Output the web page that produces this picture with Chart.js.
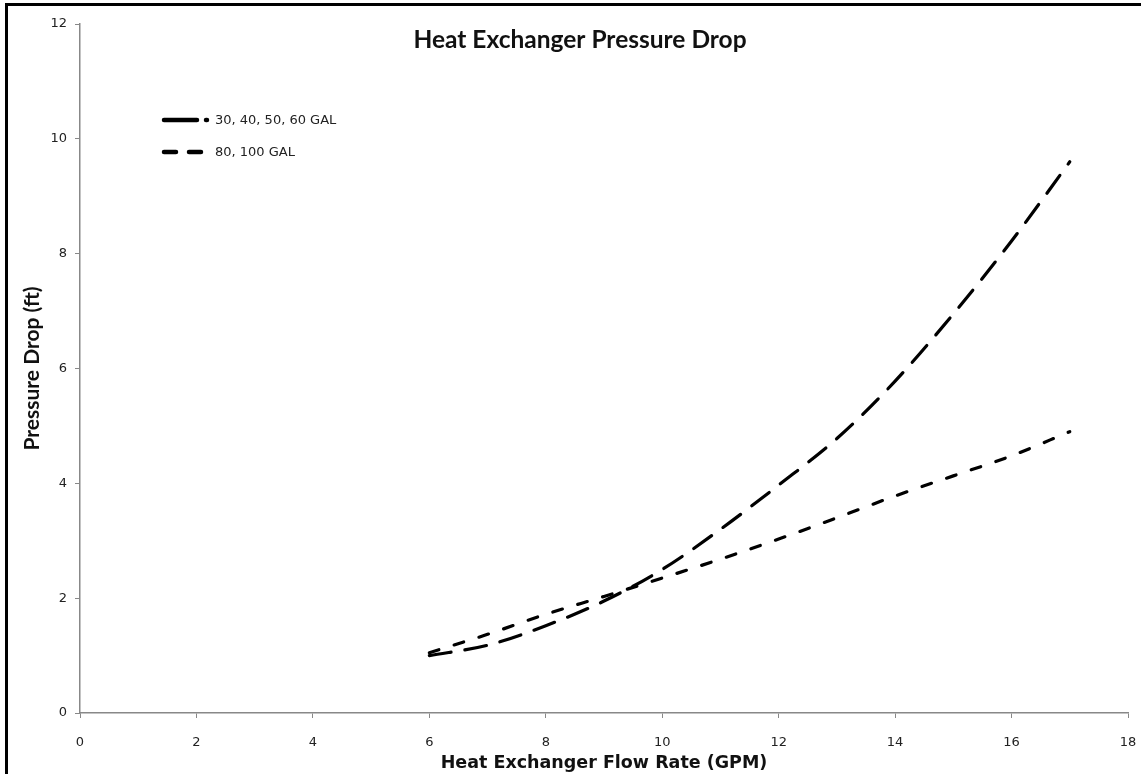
<!DOCTYPE html>
<html>
<head>
<meta charset="utf-8">
<script src="https://cdn.jsdelivr.net/npm/chart.js@4.4.0/dist/chart.umd.min.js"></script>
<style>
  html, body { margin: 0; padding: 0; background: #fff; }
  #wrap { position: relative; width: 1141px; height: 774px; overflow: hidden; }
  #frame { position: absolute; left: 5px; top: 3px; width: 1200px; height: 800px;
           border-top: 3px solid #000; border-left: 3px solid #000; pointer-events: none; }
  canvas { position: absolute; left: 0; top: 0; }
</style>
</head>
<body>
<div id="wrap">
  <canvas id="c" width="1141" height="774"></canvas>
  <div id="frame"></div>
</div>
<script>
const chartTitle = "Heat Exchanger Pressure Drop";
const xTitle = "Heat Exchanger Flow Rate (GPM)";
const yTitle = "Pressure Drop (ft)";
const flowRates = [6, 7, 8, 9, 10, 11, 12, 13, 14, 15, 16, 17];
const series1Label = "30, 40, 50, 60 GAL";
const series1Values = [1.0, 1.18, 1.52, 1.95, 2.5, 3.2, 3.97, 4.78, 5.78, 6.95, 8.22, 9.6];
const series2Label = "80, 100 GAL";
const series2Values = [1.05, 1.37, 1.72, 2.03, 2.35, 2.68, 3.03, 3.4, 3.78, 4.13, 4.48, 4.9];
const xMin = 0, xMax = 18, xStep = 2;
const yMin = 0, yMax = 12, yStep = 2;

const toPoints = (xs, ys) => xs.map((x, i) => ({x: x, y: ys[i]}));

const overlayPlugin = {
  id: 'overlay',
  afterDraw(chart) {
    const ctx = chart.ctx;
    ctx.save();
    // title
    ctx.fillStyle = '#111';
    ctx.font = 'bold 24.5px Lato';
    ctx.textAlign = 'center';
    ctx.textBaseline = 'middle';
    ctx.fillText(chartTitle, 580, 40);
    // legend
    const legendDash = [[33, 9], [12, 13]];
    const ys = [120, 152];
    chart.data.datasets.forEach((ds, i) => {
      ctx.beginPath();
      ctx.setLineDash(legendDash[i]);
      ctx.lineCap = 'round';
      ctx.lineWidth = 4.5;
      ctx.strokeStyle = '#000';
      ctx.moveTo(164, ys[i]);
      ctx.lineTo(i === 0 ? 207 : 201, ys[i]);
      ctx.stroke();
      ctx.setLineDash([]);
      ctx.fillStyle = '#222';
      ctx.font = '13px "DejaVu Sans"';
      ctx.textAlign = 'left';
      ctx.fillText(ds.label, 215, ys[i] + 1);
    });
    ctx.restore();
  }
};

new Chart(document.getElementById('c'), {
  type: 'line',
  data: {
    datasets: [
      {
        label: series1Label,
        data: toPoints(flowRates, series1Values),
        borderColor: '#000',
        borderWidth: 3.2,
        borderDash: [22, 14],
        borderCapStyle: 'round',
        cubicInterpolationMode: 'monotone',
        pointRadius: 0,
        fill: false
      },
      {
        label: series2Label,
        data: toPoints(flowRates, series2Values),
        borderColor: '#000',
        borderWidth: 3.2,
        borderDash: [10, 16],
        borderCapStyle: 'round',
        cubicInterpolationMode: 'monotone',
        pointRadius: 0,
        fill: false
      }
    ]
  },
  options: {
    responsive: false,
    animation: false,
    devicePixelRatio: 1,
    layout: { padding: { top: 24, right: 13, left: 0, bottom: 0 } },
    plugins: {
      legend: { display: false },
      tooltip: { enabled: false },
      title: { display: false }
    },
    scales: {
      x: {
        type: 'linear',
        min: xMin, max: xMax,
        ticks: { stepSize: xStep, color: '#222', font: { family: 'DejaVu Sans', size: 13 }, padding: 17, maxRotation: 0 },
        grid: { drawOnChartArea: false, color: '#888', tickLength: 5, lineWidth: 1 },
        border: { color: '#888', width: 1.5 },
        title: { display: true, text: xTitle, color: '#111', font: { family: 'DejaVu Sans', size: 17.5, weight: 'bold', lineHeight: 1.2 }, padding: { top: 0, bottom: 0 } },
        afterFit(scale) { scale.height = 61; scale.paddingRight = 0; scale.paddingLeft = 0; }
      },
      y: {
        type: 'linear',
        min: yMin, max: yMax,
        ticks: { stepSize: yStep, color: '#222', font: { family: 'DejaVu Sans', size: 13 }, padding: 8 },
        grid: { drawOnChartArea: false, color: '#888', tickLength: 5, lineWidth: 1 },
        border: { color: '#888', width: 1.5 },
        title: { display: true, text: yTitle, color: '#111', font: { family: 'Lato', size: 21, weight: 'bold', lineHeight: 1.2 }, padding: { top: 20, bottom: 0 } },
        afterFit(scale) { scale.width = 80; }
      }
    }
  },
  plugins: [overlayPlugin]
});
</script>
</body>
</html>
